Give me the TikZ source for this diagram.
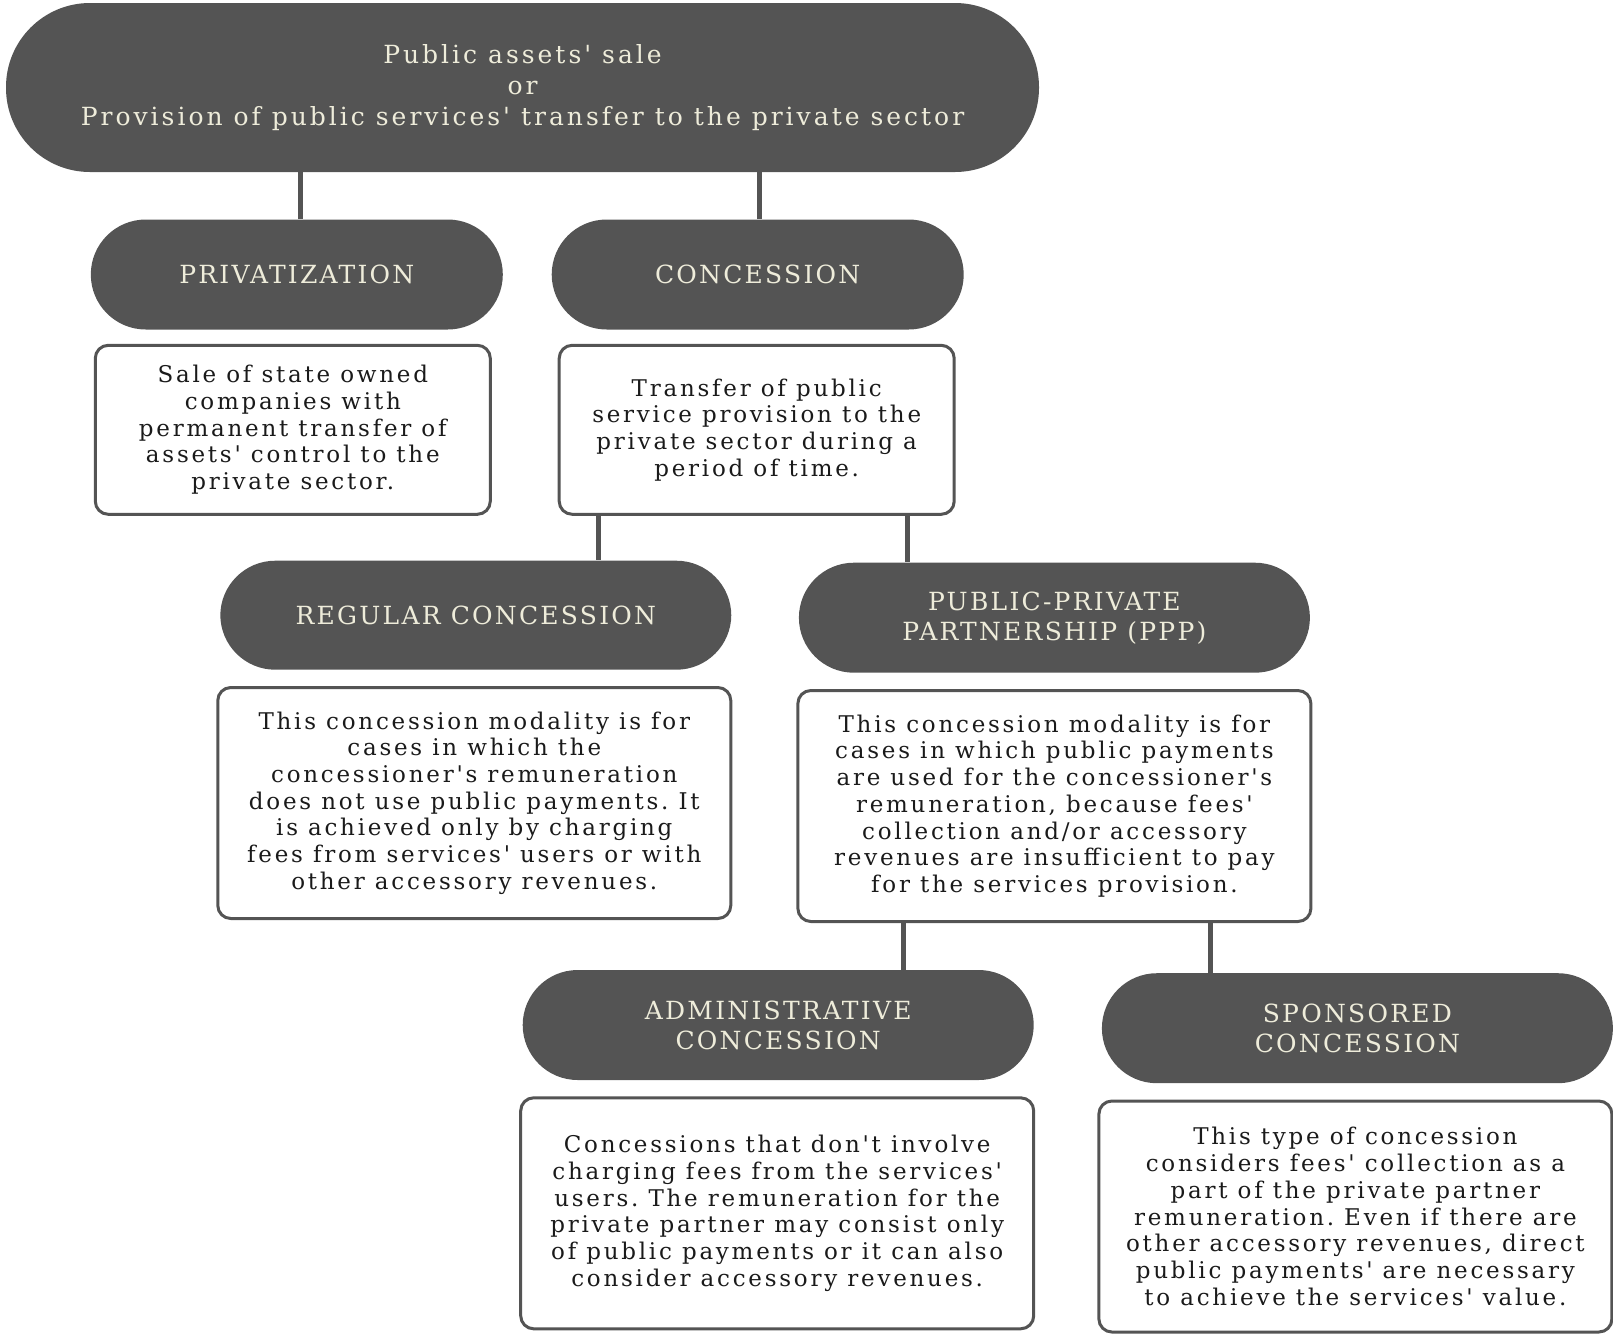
\documentclass[tikz,border=0pt]{standalone}
\usepackage{fontspec}
\usepackage{tikz}
\usetikzlibrary{positioning}

\setmainfont{DejaVu Serif}
\newfontfamily\notefont{DejaVu Serif}[LetterSpace=12, Ligatures=TeXOff]
\newfontfamily\pillfont{DejaVu Serif}[LetterSpace=9, Ligatures=TeXOff]
\newfontfamily\headfont{DejaVu Serif}[LetterSpace=12, Ligatures=TeXOff]
\frenchspacing

\definecolor{pillgray}{HTML}{545454}
\definecolor{cream}{RGB}{238,236,218}
\definecolor{inkgray}{HTML}{1A1A1A}

\begin{document}
\begin{tikzpicture}[
    x = 1pt, y = -1pt, % one unit per pixel, y down
    node distance = 14pt, % gap between a label and its note
    semithick % line style
    ]

    \tikzset{
    pill/.style = {
    fill = pillgray,
    text = cream,
    align = center,
    rounded corners = 55pt,
    minimum width = 511pt,
    minimum height = 110pt,
    font = \pillfont\fontsize{25}{30}\selectfont
    },
    note/.style = {
    draw = pillgray,
    line width = 3pt,
    fill = white,
    text = inkgray,
    align = center,
    rounded corners = 13pt,
    minimum width = 513pt,
    minimum height = 231pt,
    font = \notefont\fontsize{23}{26.7}\selectfont
    },
    link/.style = {
    draw = pillgray,
    line width = 5pt
    }
    }
    \useasboundingbox (0,0) rectangle (1613,1334);

    \node[pill, minimum width = 1033pt, minimum height = 169pt,
    rounded corners = 84pt, font = \headfont\fontsize{25}{31.4}\selectfont]
    (sale) at (522.5,87.5)
    {Public assets' sale\\or\\Provision of public services' transfer to the private sector};

    \node[pill, minimum width = 412pt] (priv) at (296.8,274.5) {PRIVATIZATION};
    \node[pill, minimum width = 412pt] (conc) at (757.7,274.5) {CONCESSION};
    \node[note, minimum width = 395pt, minimum height = 169pt] (privnote) [below=of priv, xshift=-4pt]
    {Sale of state owned\\companies with\\permanent transfer of\\assets' control to the\\private sector.};
    \node[note, minimum width = 395pt, minimum height = 169pt] (concnote) [below=of conc, xshift=-1pt]
    {Transfer of public\\service provision to the\\private sector during a\\period of time.};

    \node[pill, minimum height = 109pt] (reg) at (475.8,615.2) {REGULAR CONCESSION};
    \node[pill] (ppp) at (1054.4,617.7) {PUBLIC-PRIVATE\\PARTNERSHIP (PPP)};
    \node[note] (regnote) [below=16pt of reg, xshift=-1.5pt]
    {This concession modality is for\\cases in which the\\concessioner's remuneration\\does not use public payments. It\\is achieved only by charging\\fees from services' users or with\\other accessory revenues.};
    \node[note] (pppnote) [below=16pt of ppp]
    {This concession modality is for\\cases in which public payments\\are used for the concessioner's\\remuneration, because fees'\\collection and/or accessory\\revenues are insufficient to pay\\for the services provision.};

    \node[pill] (admin) at (778.2,1025) {ADMINISTRATIVE\\CONCESSION};
    \node[pill] (spons) at (1357.4,1028.2) {SPONSORED\\CONCESSION};
    \node[note] (adminnote) [below=16pt of admin, xshift=-1pt]
    {Concessions that don't involve\\charging fees from the services'\\users. The remuneration for the\\private partner may consist only\\of public payments or it can also\\consider accessory revenues.};
    \node[note] (sponsnote) [below=16pt of spons, xshift=-2pt]
    {This type of concession\\considers fees' collection as a\\part of the private partner\\remuneration. Even if there are\\other accessory revenues, direct\\public payments' are necessary\\to achieve the services' value.};

    % stems between the levels
    \draw[link] ([xshift=4pt]priv.north) -- ([xshift=4pt]priv.north |- sale.south);
    \draw[link] ([xshift=1.5pt]conc.north) -- ([xshift=1.5pt]conc.north |- sale.south);
    \draw[link] ([xshift=41pt]concnote.south west) -- ([xshift=41pt]concnote.south west |- reg.north);
    \draw[link] ([xshift=-48pt]concnote.south east) -- ([xshift=-48pt]concnote.south east |- ppp.north);
    \draw[link] ([xshift=107pt]pppnote.south west) -- ([xshift=107pt]pppnote.south west |- admin.north);
    \draw[link] ([xshift=-102pt]pppnote.south east) -- ([xshift=-102pt]pppnote.south east |- spons.north);
\end{tikzpicture}
\end{document}
